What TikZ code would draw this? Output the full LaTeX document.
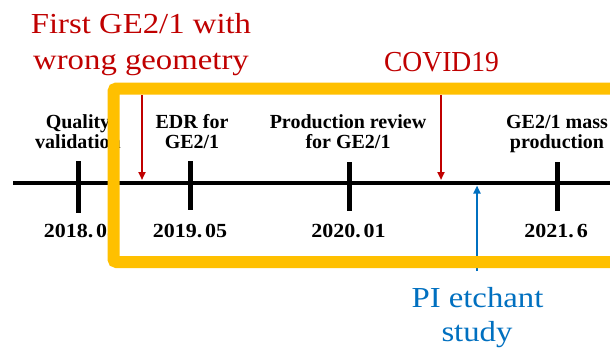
\documentclass[tikz,border=0pt]{standalone}
\usepackage{fontspec}
\setmainfont{Liberation Serif}
\newfontfamily\wideserif[FakeStretch=1.13]{Liberation Serif}
\newfontfamily\narrowserif[FakeStretch=0.95]{Liberation Serif}
\newfontfamily\dateserif[FakeStretch=1.1]{Liberation Serif}
\usetikzlibrary{arrows.meta}
\definecolor{ered}{HTML}{C00000}
\definecolor{eblue}{HTML}{0070C0}
\definecolor{eorange}{HTML}{FFC000}
\begin{document}
\begin{tikzpicture}[x=1pt,y=-1pt,
  note/.style={inner sep=0pt, anchor=base, font=\wideserif\fontsize{29}{35}\selectfont},
  covid/.style={inner sep=0pt, anchor=base, font=\narrowserif\fontsize{29}{35}\selectfont},
  lab/.style={inner sep=0pt, anchor=base, font=\bfseries\fontsize{20}{24}\selectfont},
  datelab/.style={inner sep=0pt, anchor=base, font=\dateserif\bfseries\fontsize{20}{24}\selectfont},
  tickmark/.style={line width=5pt},
  timeline/.style={line width=4.5pt},
  arr/.style={line width=2pt, -{Triangle[width=7pt,length=8pt]}},
  framebox/.style={draw=eorange, line width=12pt, rounded corners=3pt},
]
\clip (0,0) rectangle (610,348);
\fill[white] (0,0) rectangle (610,348);

% red notes
\node[note, text=ered] (first1) at (141,33) {First GE2/1 with};
\node[note, text=ered] (first2) at (141,69) {wrong geometry};
\node[covid, text=ered] (covid) at (441.5,71) {COVID19};
% blue note
\node[note, text=eblue] (pi1) at (477.5,307) {PI etchant};
\node[note, text=eblue] (pi2) at (477,341) {study};

% milestone labels
\node[lab] (q1) at (78,128) {Quality};
\node[lab] (q2) at (78,148) {validation};
\node[lab] (e1) at (192,128) {EDR for};
\node[lab] (e2) at (192,148) {GE2/1};
\node[lab] (p1) at (348,128) {Production review};
\node[lab] (p2) at (348,148) {for GE2/1};
\node[lab] (m1) at (557,128) {GE2/1 mass};
\node[lab] (m2) at (557,148) {production};

% dates
\node[datelab] (d1) at (81,237) {2018.\kern3pt05};
\node[datelab] (d2) at (190,237) {2019.\kern3pt05};
\node[datelab] (d3) at (348.5,237) {2020.\kern3pt01};
\node[datelab] (d4) at (556,237) {2021.\kern3pt6};

% timeline
\coordinate (tls) at (13,183);
\coordinate (tle) at (620,183);
\draw[timeline] (tls) -- (tle);

\coordinate (t1a) at (78,161);   \coordinate (t1b) at (78,213);
\coordinate (t2a) at (190,161);  \coordinate (t2b) at (190,210);
\coordinate (t3a) at (349,162);  \coordinate (t3b) at (349,211);
\coordinate (t4a) at (557,162);  \coordinate (t4b) at (557,211);
\draw[tickmark] (t1a) -- (t1b);
\draw[tickmark] (t2a) -- (t2b);
\draw[tickmark] (t3a) -- (t3b);
\draw[tickmark] (t4a) -- (t4b);

% arrows
\coordinate (ra1) at (142,95);  \coordinate (rb1) at (142,180);
\coordinate (ra2) at (441,95);  \coordinate (rb2) at (441,180);
\coordinate (ba) at (477,271);  \coordinate (bb) at (477,185.5);
\draw[arr, ered] (ra1) -- (rb1);
\draw[arr, ered] (ra2) -- (rb2);
\draw[arr, eblue] (ba) -- (bb);

% orange frame
\coordinate (fa) at (113.5,88.5);
\coordinate (fb) at (660,262);
\draw[framebox] (fa) rectangle (fb);
\end{tikzpicture}
\end{document}
